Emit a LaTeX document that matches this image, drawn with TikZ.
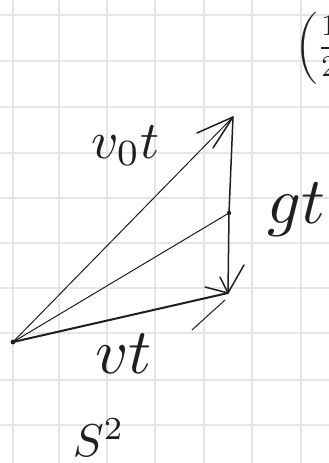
\documentclass[tikz,border=0pt]{standalone}
\usepackage{amsmath}
\begin{document}
\begin{tikzpicture}[x=1pt,y=-1pt,
  gridline/.style={draw=black!10,line width=1.4pt},
  ink/.style={draw=black!88,line cap=round,line join=round},
  thinink/.style={ink,line width=1.0pt},
  midink/.style={ink,line width=1.5pt},
  thickink/.style={ink,line width=2.0pt},
  hand/.style={text=black!88,inner sep=0pt}]
\useasboundingbox (0,0) rectangle (329,463);
\fill[white] (0,0) rectangle (329,463);
% grid paper
\foreach \gx in {13,59,107,155,204,252,301}
  \draw[gridline] (\gx,0) -- (\gx,463);
\foreach \gy in {15,61,107,153,198,243,288,333,380,425}
  \draw[gridline] (0,\gy) -- (329,\gy);
% points
\coordinate (O) at (13,342);
\coordinate (A) at (233,117);
\coordinate (M) at (229,213);
\coordinate (B) at (228,293);
% barb ends
\coordinate (a1) at (197,133);
\coordinate (a2) at (213,148);
\coordinate (b1) at (220,277);
\coordinate (b2) at (244,265);
\coordinate (b3) at (205,287);
\coordinate (s1) at (225,300);
\coordinate (s2) at (192,330);
% vectors
\draw[thinink] (O) -- (A);
\draw[thinink] (O) -- (M);
\draw[midink] (A) -- (M) -- (B);
\draw[thickink] (O) -- (B);
% arrowheads
\draw[midink] (a1) -- (A) -- (a2);
\draw[midink] (b1) -- (B) -- (b2);
\draw[midink] (b3) -- (B);
\draw[thinink] (s1) -- (s2);
% dots
\fill[black!88] (O) circle (2.4);
\fill[black!88] (M) circle (2.2);
% labels
\node[hand,anchor=base west,scale=5.3] (lv0) at (90,158) {$v_0t$};
\node[hand,anchor=base west,scale=6.6] (lg) at (266,223) {$gt$};
\node[hand,anchor=base west,scale=6.4] (lv) at (94,373) {$vt$};
\node[hand,anchor=base west,scale=4.6] (ls) at (72,456) {$S^2$};
\node[hand,anchor=west,scale=3.0] (lf) at (295,48) {$\biggl(\dfrac{1}{2}$};
\end{tikzpicture}
\end{document}
